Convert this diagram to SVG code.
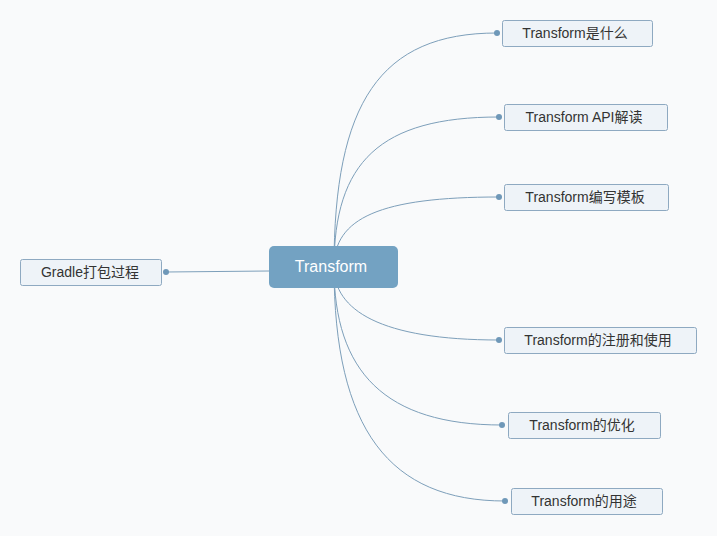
<svg xmlns="http://www.w3.org/2000/svg" width="717" height="536" viewBox="0 0 717 536">
<style>
.bg{fill:#f9fafb}
.link{fill:none;stroke:#7d9fba;stroke-width:1}
.dot{fill:#6f98b8}
.child{fill:#eef3f8;stroke:#8ea9c1;stroke-width:1}
.ct{font-family:"Liberation Sans","Noto Sans CJK SC",sans-serif;font-size:14px;fill:#333;text-anchor:middle;dominant-baseline:central}
.root{fill:#73a2c2}
.rt{font-family:"Liberation Sans","Noto Sans CJK SC",sans-serif;font-size:16px;fill:#fff;text-anchor:middle;dominant-baseline:central}
</style>
<rect class="bg" width="717" height="536"/>
<g id="connectors">
<path class="link" d="M334,267 C334,103 380,33 497,33"/>
<path class="link" d="M334,267 C334,162 380,117 499,117"/>
<path class="link" d="M334,267 C334,218 380,197 499,197"/>
<path class="link" d="M334,267 C334,310 380,340 499,340"/>
<path class="link" d="M334,267 C334,372 385,425 502,425"/>
<path class="link" d="M334,267 C334,430 390,501 505,501"/>
<path class="link" d="M269,271 L166,272"/>
<circle class="dot" cx="497" cy="33" r="3"/>
<circle class="dot" cx="499" cy="117" r="3"/>
<circle class="dot" cx="499" cy="197" r="3"/>
<circle class="dot" cx="499" cy="340" r="3"/>
<circle class="dot" cx="502" cy="425" r="3"/>
<circle class="dot" cx="505" cy="501" r="3"/>
<circle class="dot" cx="166" cy="272" r="3"/>
</g>
<g id="root">
<rect class="root" x="269" y="246" width="129" height="42" rx="5"/>
<text class="rt" x="331" y="266">Transform</text>
</g>
<g id="gradle">
<rect class="child" x="20.5" y="259.5" width="141" height="26" rx="2"/>
<text class="ct" x="90" y="272">Gradle打包过程</text>
</g>
<g id="n1">
<rect class="child" x="502.5" y="20.5" width="150" height="26" rx="2"/>
<text class="ct" x="575" y="33">Transform是什么</text>
</g>
<g id="n2">
<rect class="child" x="504.5" y="104.5" width="163" height="26" rx="2"/>
<text class="ct" x="584" y="117">Transform API解读</text>
</g>
<g id="n3">
<rect class="child" x="504.5" y="184.5" width="164" height="26" rx="2"/>
<text class="ct" x="585" y="197">Transform编写模板</text>
</g>
<g id="n4">
<rect class="child" x="504.5" y="327.5" width="192" height="26" rx="2"/>
<text class="ct" x="598" y="340">Transform的注册和使用</text>
</g>
<g id="n5">
<rect class="child" x="508.5" y="412.5" width="152" height="26" rx="2"/>
<text class="ct" x="582" y="425">Transform的优化</text>
</g>
<g id="n6">
<rect class="child" x="511.5" y="488.5" width="151" height="26" rx="2"/>
<text class="ct" x="584" y="501">Transform的用途</text>
</g>
</svg>
